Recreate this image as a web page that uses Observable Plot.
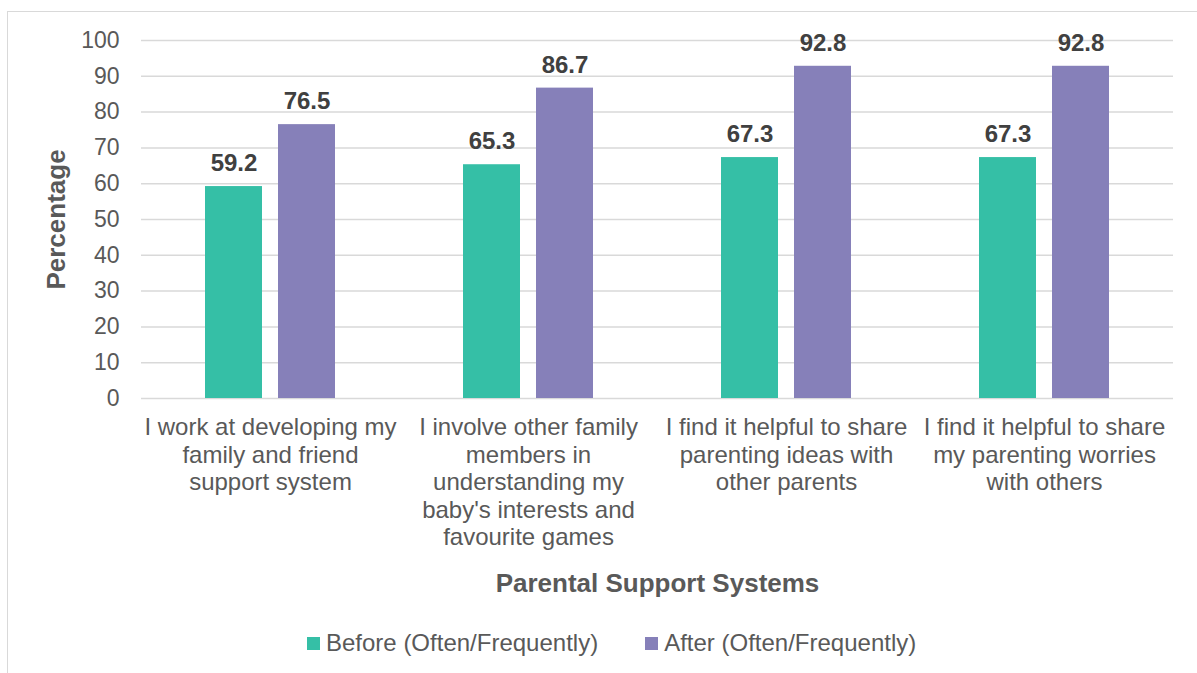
<!DOCTYPE html>
<html><head><meta charset="utf-8">
<script src="https://cdn.jsdelivr.net/npm/d3@7"></script>
<script src="https://cdn.jsdelivr.net/npm/@observablehq/plot@0.6"></script>
<style>
body{margin:0;background:#fff;font-family:"Liberation Sans",Arial,sans-serif;}
#frame{position:absolute;left:7px;top:11px;width:1190px;height:662px;border:1px solid #d9d9d9;box-sizing:border-box;border-right:none;border-bottom:none;}
#chart{position:absolute;left:0;top:0;}
#legend{position:absolute;left:299px;top:619px;display:flex;align-items:center;font-size:24px;color:#595959;line-height:24px;white-space:nowrap;}
#legend .item{display:flex;align-items:center;}
#legend .sw{width:13px;height:13px;margin-right:6px;}
</style></head><body>
<div id="frame"><div id="chart"></div><div id="legend"></div></div>
<script>
const categories = [
  "I work at developing my family and friend support system",
  "I involve other family members in understanding my baby's interests and favourite games",
  "I find it helpful to share parenting ideas with other parents",
  "I find it helpful to share my parenting worries with others"
];
const categoryLabels = [
  "I work at developing my\nfamily and friend\nsupport system",
  "I involve other family\nmembers in\nunderstanding my\nbaby's interests and\nfavourite games",
  "I find it helpful to share\nparenting ideas with\nother parents",
  "I find it helpful to share\nmy parenting worries\nwith others"
];
const seriesNames = ["Before (Often/Frequently)", "After (Often/Frequently)"];
const beforeValues = [59.2, 65.3, 67.3, 67.3];
const afterValues = [76.5, 86.7, 92.8, 92.8];
const seriesColors = ["#35bfa6", "#8680b9"];
const yTicks = [0, 10, 20, 30, 40, 50, 60, 70, 80, 90, 100];

const data = [];
categories.forEach((c, i) => {
  data.push({category: c, series: seriesNames[0], value: beforeValues[i]});
  data.push({category: c, series: seriesNames[1], value: afterValues[i]});
});
const labelOf = new Map(categories.map((c, i) => [c, categoryLabels[i]]));

const chart = Plot.plot({
  width: 1189,
  height: 588,
  marginLeft: 132,
  marginRight: 24,
  marginTop: 28,
  marginBottom: 202,
  style: {fontFamily: '"Liberation Sans", Arial, sans-serif', background: "transparent"},
  fx: {domain: categories, padding: 0, label: null},
  x: {domain: seriesNames, paddingInner: 0.216, paddingOuter: 0.853, axis: null},
  y: {domain: [0, 100], axis: null},
  color: {domain: seriesNames, range: seriesColors},
  marks: [
    Plot.ruleY(yTicks, {stroke: "#d9d9d9", strokeWidth: 1.5}),
    Plot.barY(data, {fx: "category", x: "series", y: "value", fill: "series"}),
    Plot.text(data, {fx: "category", x: "series", y: "value", text: d => d.value.toFixed(1),
      dy: -23, fontSize: 24, fontWeight: "bold", fill: "#404040"}),
    Plot.axisY(yTicks, {tickSize: 0, tickPadding: 22, fontSize: 23, color: "#595959", label: null}),
    Plot.axisY({ticks: [], label: "Percentage", labelAnchor: "center", labelArrow: "none",
      labelOffset: 95, fontSize: 26, fontWeight: "bold", color: "#595959"}),
    Plot.axisFx({anchor: "bottom", tickSize: 0, tickPadding: 17, fontSize: 24, lineHeight: 1.15, color: "#595959",
      tickFormat: d => labelOf.get(d), label: null}),
    Plot.axisFx({anchor: "bottom", ticks: [], label: "Parental Support Systems", labelAnchor: "center", labelArrow: "none",
      labelOffset: 193, fontSize: 26, fontWeight: "bold", color: "#595959"})
  ]
});
document.getElementById("chart").appendChild(chart);

const legend = document.getElementById("legend");
seriesNames.forEach((s, i) => {
  const item = document.createElement("div");
  item.className = "item";
  if (i > 0) item.style.marginLeft = "47px";
  const sw = document.createElement("span");
  sw.className = "sw";
  sw.style.background = seriesColors[i];
  const t = document.createElement("span");
  t.textContent = s;
  item.appendChild(sw);
  item.appendChild(t);
  legend.appendChild(item);
});
</script>
</body></html>
